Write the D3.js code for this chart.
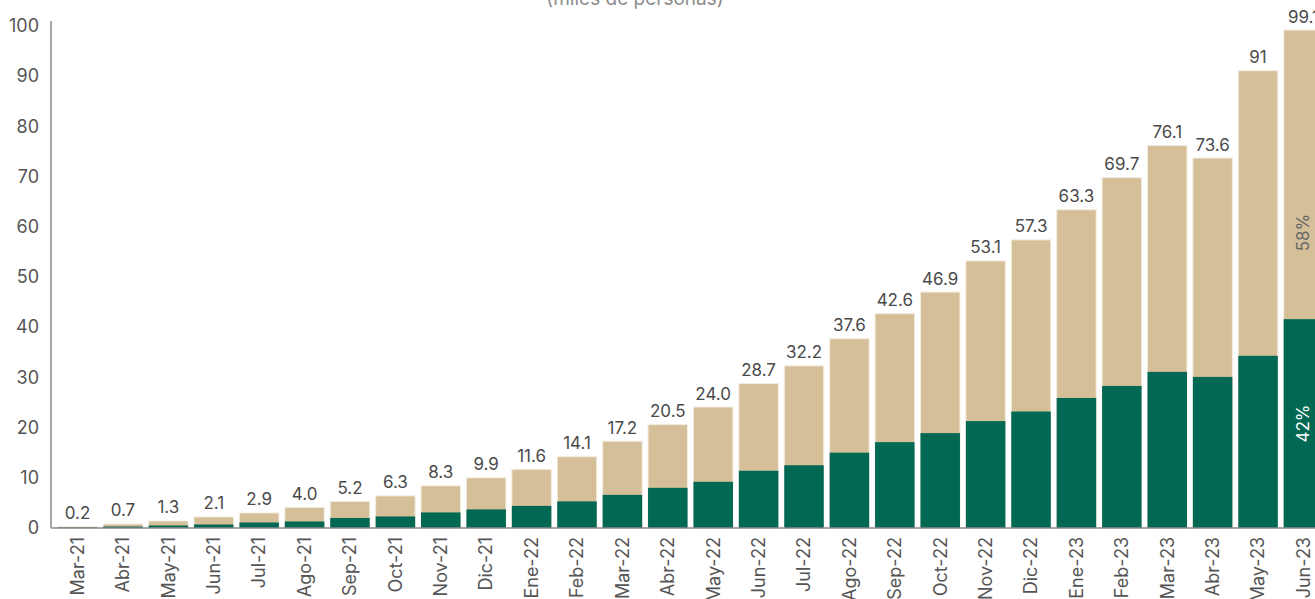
<!DOCTYPE html>
<html>
<head>
<meta charset="utf-8">
<script src="https://cdn.jsdelivr.net/npm/d3@7"></script>
<style>
  body { margin: 0; background: #fff; }
  text { font-family: "Inter", "Open Sans", sans-serif; }
</style>
</head>
<body>
<svg id="chart"></svg>
<script>
// months on the x axis
var months = ["Mar-21", "Abr-21", "May-21", "Jun-21", "Jul-21", "Ago-21", "Sep-21", "Oct-21",
    "Nov-21", "Dic-21", "Ene-22", "Feb-22", "Mar-22", "Abr-22", "May-22", "Jun-22", "Jul-22",
    "Ago-22", "Sep-22", "Oct-22", "Nov-22", "Dic-22", "Ene-23", "Feb-23", "Mar-23", "Abr-23",
    "May-23", "Jun-23"];

// total (miles de personas)
var totals = [0.2, 0.7, 1.3, 2.1, 2.9, 4.0, 5.2, 6.3, 8.3, 9.9, 11.6, 14.1, 17.2, 20.5, 24.0,
    28.7, 32.2, 37.6, 42.6, 46.9, 53.1, 57.3, 63.3, 69.7, 76.1, 73.6, 91, 99.1];
var totalLabels = ["0.2", "0.7", "1.3", "2.1", "2.9", "4.0", "5.2", "6.3", "8.3", "9.9", "11.6",
    "14.1", "17.2", "20.5", "24.0", "28.7", "32.2", "37.6", "42.6", "46.9", "53.1", "57.3",
    "63.3", "69.7", "76.1", "73.6", "91", "99.1"];

// green part of each bar
var greenPart = [0.1, 0.3, 0.5, 0.7, 1.1, 1.3, 2.0, 2.3, 3.1, 3.7, 4.4, 5.3, 6.6, 8.0, 9.2,
    11.4, 12.5, 15.0, 17.1, 18.9, 21.3, 23.2, 25.9, 28.3, 31.1, 30.1, 34.3, 41.6];

// shares shown on the last bar
var lastShares = ["42%", "58%"];

var yTicks = [0, 10, 20, 30, 40, 50, 60, 70, 80, 90, 100];

var width = 1315, height = 599;
var green = "#006853", tan = "#d5bf98";

var svg = d3.select("#chart")
    .attr("width", width)
    .attr("height", height);

var x = d3.scaleBand()
    .domain(months)
    .range([51, 1330])
    .paddingInner(0.13)
    .paddingOuter(0.15);

var y = d3.scaleLinear()
    .domain([0, 100])
    .range([528, 26]);

var data = months.map(function (m, i) {
    return { month: m, total: totals[i], label: totalLabels[i], green: greenPart[i] };
});

// title (cut at the top of the picture)
svg.append("text")
    .attr("x", 635)
    .attr("y", 5)
    .attr("text-anchor", "middle")
    .attr("font-size", 19)
    .attr("fill", "#8c8c8c")
    .text("(miles de personas)");

// tan bars = total
svg.append("g")
    .selectAll("rect")
    .data(data)
    .enter().append("rect")
    .attr("x", function (d) { return x(d.month); })
    .attr("width", x.bandwidth())
    .attr("y", function (d) { return y(d.total) - 0.5; })
    .attr("height", function (d) { return y(0) - y(d.total) + 0.5; })
    .attr("fill", tan)
    .attr("stroke", "#f3ede2")
    .attr("stroke-width", 1);

// green bars
svg.append("g")
    .selectAll("rect")
    .data(data)
    .enter().append("rect")
    .attr("x", function (d) { return x(d.month); })
    .attr("width", x.bandwidth())
    .attr("y", function (d) { return y(d.green); })
    .attr("height", function (d) { return y(0) - y(d.green); })
    .attr("fill", green);

// value labels
svg.append("g")
    .selectAll("text")
    .data(data)
    .enter().append("text")
    .attr("x", function (d) { return x(d.month) + x.bandwidth() / 2; })
    .attr("y", function (d) { return y(d.total) - 8; })
    .attr("text-anchor", "middle")
    .attr("font-size", 17)
    .attr("fill", "#4a4a4a")
    .text(function (d) { return d.label; });

// shares on the last bar
var last = data[data.length - 1];
var cx = x(last.month) + x.bandwidth() / 2;
[
    { t: lastShares[0], v: last.green / 2, c: "#ffffff" },
    { t: lastShares[1], v: last.green + (last.total - last.green) * 0.3, c: "#666666" }
].forEach(function (s) {
    svg.append("text")
        .attr("transform", "translate(" + cx + "," + y(s.v) + ") rotate(-90)")
        .attr("text-anchor", "middle")
        .attr("dy", "0.35em")
        .attr("font-size", 17)
        .attr("fill", s.c)
        .text(s.t);
});

// y axis
var yAxis = svg.append("g")
    .attr("transform", "translate(51,0)")
    .call(d3.axisLeft(y).tickValues(yTicks).tickSize(0).tickPadding(12));
yAxis.select(".domain").attr("stroke", "#8a8a8a").attr("stroke-width", 1.5)
    .attr("d", "M0," + y(0) + "V21");
yAxis.selectAll("text").attr("font-size", 18).attr("fill", "#555");

// x axis
var xAxis = svg.append("g")
    .attr("transform", "translate(0," + y(0) + ")")
    .call(d3.axisBottom(x).tickSize(0).tickPadding(0));
xAxis.select(".domain").attr("stroke", "#8a8a8a").attr("stroke-width", 1.5)
    .attr("d", "M51,0H" + width);
xAxis.selectAll("text")
    .attr("font-size", 18)
    .attr("fill", "#555")
    .attr("text-anchor", "end")
    .attr("transform", "rotate(-90)")
    .attr("x", -9)
    .attr("y", 0)
    .attr("dy", "0.35em");
</script>
</body>
</html>
